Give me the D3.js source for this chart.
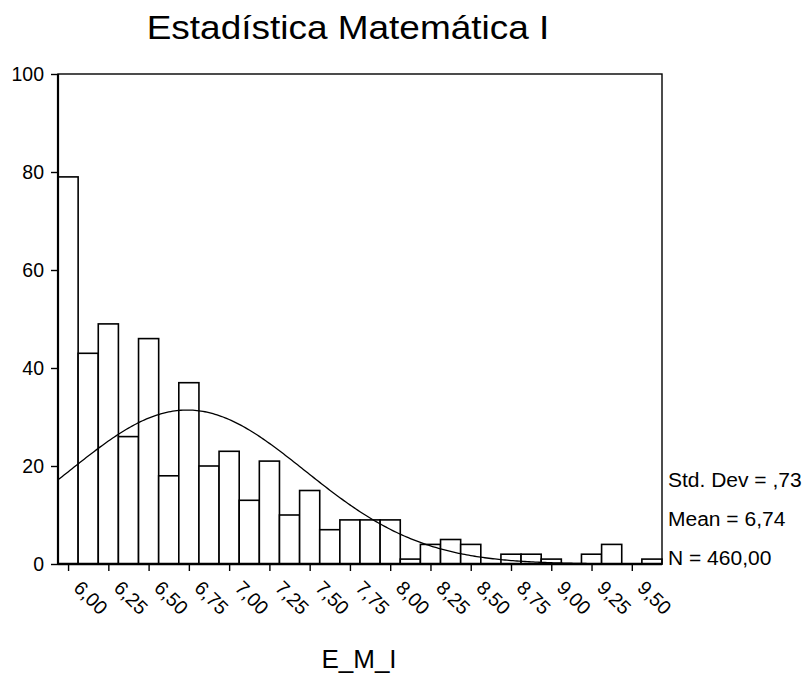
<!DOCTYPE html>
<html>
<head>
<meta charset="utf-8">
<script src="https://cdn.jsdelivr.net/npm/d3@7"></script>
<style>
  html, body { margin: 0; padding: 0; background: #fff; }
  svg { display: block; }
  text { font-family: "Liberation Sans", Arial, sans-serif; fill: #000; }
</style>
</head>
<body>
<svg id="chart" width="807" height="681"></svg>
<script>
// ---- data ----
const title = "Estadística Matemática I";
const xTitle = "E_M_I";
const binCenters = [6.000, 6.125, 6.250, 6.375, 6.500, 6.625, 6.750, 6.875, 7.000, 7.125,
                    7.250, 7.375, 7.500, 7.625, 7.750, 7.875, 8.000, 8.125, 8.250, 8.375,
                    8.500, 8.625, 8.750, 8.875, 9.000, 9.125, 9.250, 9.375, 9.500, 9.625];
const counts = [79, 43, 49, 26, 46, 18, 37, 20, 23, 13,
                21, 10, 15, 7, 9, 9, 9, 1, 4, 5,
                4, 0, 2, 2, 1, 0, 2, 4, 0, 1];
const binWidth = 0.125;
const xTickValues = [6.00, 6.25, 6.50, 6.75, 7.00, 7.25, 7.50, 7.75, 8.00, 8.25, 8.50, 8.75, 9.00, 9.25, 9.50];
const xTickLabels = ["6,00", "6,25", "6,50", "6,75", "7,00", "7,25", "7,50", "7,75", "8,00", "8,25", "8,50", "8,75", "9,00", "9,25", "9,50"];
const yTickValues = [0, 20, 40, 60, 80, 100];
const statMean = 6.74;
const statSd = 0.73;
const statN = 460;
const statLines = ["Std. Dev = ,73", "Mean = 6,74", "N = 460,00"];

// ---- layout ----
const svg = d3.select("#chart");
const L = 58, R = 662, T = 74, B = 564;

// horizontal stretch helper (reference glyphs are slightly wider than the font)
function stretch(sel, k) {
  sel.each(function () {
    const w = this.getComputedTextLength();
    d3.select(this).attr("textLength", w * k).attr("lengthAdjust", "spacingAndGlyphs");
  });
}

const x = d3.scaleLinear()
  .domain([binCenters[0] - binWidth / 2, binCenters[binCenters.length - 1] + binWidth / 2])
  .range([L, R]);
const y = d3.scaleLinear().domain([0, 100]).range([B, T]);

// title
svg.append("text")
  .attr("x", 348).attr("y", 39)
  .attr("text-anchor", "middle")
  .style("font-size", "33px")
  .text(title)
  .call(stretch, 1.12);

// bars
svg.append("g").selectAll("rect")
  .data(binCenters.map((c, i) => ({ c, v: counts[i] })).filter(d => d.v > 0))
  .join("rect")
  .attr("x", d => x(d.c - binWidth / 2))
  .attr("y", d => y(d.v))
  .attr("width", d => x(d.c + binWidth / 2) - x(d.c - binWidth / 2))
  .attr("height", d => y(0) - y(d.v))
  .attr("fill", "#fff")
  .attr("stroke", "#000")
  .attr("stroke-width", 1.6);

// normal curve fitted from mean / sd / N
const [d0, d1] = x.domain();
const curvePts = d3.range(0, 301).map(k => {
  const xv = d0 + (d1 - d0) * k / 300;
  const z = (xv - statMean) / statSd;
  const yv = statN * binWidth / (statSd * Math.sqrt(2 * Math.PI)) * Math.exp(-0.5 * z * z);
  return [xv, yv];
});
svg.append("path")
  .datum(curvePts)
  .attr("fill", "none")
  .attr("stroke", "#000")
  .attr("stroke-width", 1.3)
  .attr("d", d3.line().x(d => x(d[0])).y(d => y(d[1])));

// frame (top & right)
svg.append("rect")
  .attr("x", L).attr("y", T)
  .attr("width", R - L).attr("height", B - T)
  .attr("fill", "none")
  .attr("stroke", "#000")
  .attr("stroke-width", 1.4);

// y axis
const yAxis = d3.axisLeft(y).tickValues(yTickValues).tickSize(7).tickPadding(7).tickFormat(d3.format("d"));
const gy = svg.append("g").attr("transform", `translate(${L},0)`).call(yAxis);
gy.select(".domain").attr("stroke-width", 2.2).attr("d", `M0,${T}V${B}`);
gy.selectAll(".tick line").attr("stroke-width", 1.4);
gy.selectAll(".tick text").style("font-size", "19.5px").style("font-family", '"Liberation Sans", Arial, sans-serif').attr("dy", "0.35em");

// x axis
const xAxis = d3.axisBottom(x).tickValues(xTickValues).tickSize(7)
  .tickFormat((d, i) => xTickLabels[i]);
const gx = svg.append("g").attr("transform", `translate(0,${B})`).call(xAxis);
gx.select(".domain").attr("stroke-width", 2.6).attr("d", `M${L},0H${R}`);
gx.selectAll(".tick line").attr("stroke-width", 1.4);
gx.selectAll(".tick text")
  .style("font-size", "19.5px")
  .style("font-family", '"Liberation Sans", Arial, sans-serif')
  .attr("text-anchor", "start")
  .attr("x", 0).attr("y", 0).attr("dy", 0)
  .attr("transform", "translate(4,25) rotate(45)");

// x title
svg.append("text")
  .attr("x", 359).attr("y", 668)
  .attr("text-anchor", "middle")
  .style("font-size", "26px")
  .text(xTitle);

// stats
svg.append("g").selectAll("text")
  .data(statLines)
  .join("text")
  .attr("x", 668)
  .attr("y", (d, i) => 487 + i * 39)
  .style("font-size", "20px")
  .text(d => d)
  .call(stretch, 1.05);
</script>
</body>
</html>
